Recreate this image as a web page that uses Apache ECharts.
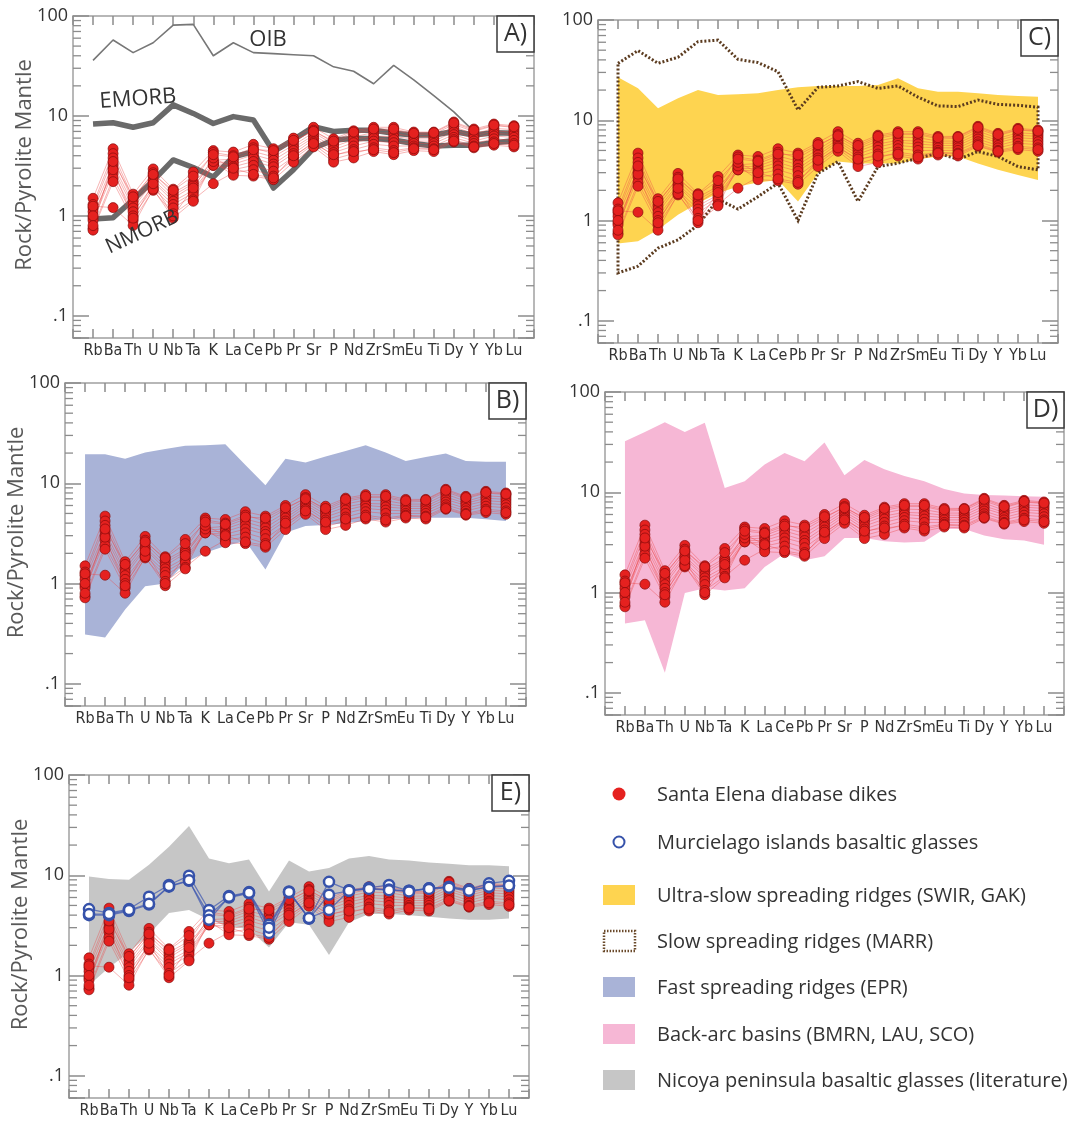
<!DOCTYPE html>
<html><head><meta charset="utf-8">
<script src="https://cdn.jsdelivr.net/npm/echarts@6/dist/echarts.min.js"></script>
<style>html,body{margin:0;padding:0;background:#fff}#c{width:1073px;height:1122px}</style>
</head><body><div id="c"></div>
<script>
// ---------- data ----------
const ELEMENTS = ['Rb','Ba','Th','U','Nb','Ta','K','La','Ce','Pb','Pr','Sr','P','Nd','Zr','Sm','Eu','Ti','Dy','Y','Yb','Lu'];
const YTICK_VALUES = [0.1, 1, 10, 100];
const YTICK_LABELS = ['.1', '1', '10', '100'];
const MINOR_TICKS = [0.06,0.07,0.08,0.09,0.2,0.3,0.4,0.5,0.6,0.7,0.8,0.9,2,3,4,5,6,7,8,9,20,30,40,50,60,70,80,90];

// Santa Elena diabase dikes
const DIKE_1  = [1.5, 4.7, 1.65, 2.95, 1.85, 2.75, 4.5, 4.35, 5.2, 4.7, 6.0, 7.7, 5.9, 7.1, 7.7, 7.7, 6.9, 6.9, 8.7, 7.4, 8.3, 8.0];
const DIKE_2  = [1.3, 4.2, 1.5, 2.7, 1.7, 2.2, 4.3, 4.0, 4.8, 4.2, 5.5, 7.2, 5.4, 6.6, 7.2, 7.2, 6.5, 6.6, 8.2, 7.0, 8.0, 7.7];
const DIKE_3  = [1.2, 3.8, 1.4, 2.5, 1.6, 2.1, 3.6, 3.7, 4.4, 3.9, 5.1, 6.8, 5.2, 6.2, 6.8, 6.7, 6.2, 6.2, 7.8, 6.6, 7.5, 7.3];
const DIKE_4  = [1.1, 3.3, 1.3, 2.3, 1.5, 2.0, 3.4, 3.5, 4.1, 3.6, 4.8, 6.4, 4.9, 5.8, 6.3, 6.2, 5.9, 5.9, 7.3, 6.3, 7.1, 6.9];
const DIKE_5  = [0.95, 3.0, 1.2, 2.2, 1.4, 1.8, 3.3, 3.3, 3.8, 3.3, 4.5, 6.1, 4.6, 5.4, 6.0, 5.8, 5.6, 5.6, 6.9, 6.0, 6.7, 6.5];
const DIKE_6  = [0.9, 2.7, 1.1, 2.0, 1.3, 1.7, 3.2, 3.1, 3.5, 3.1, 4.2, 5.8, 4.3, 5.0, 5.6, 5.4, 5.3, 5.3, 6.5, 5.6, 6.3, 6.1];
const DIKE_7  = [0.75, 2.4, 1.0, 1.9, 1.2, 1.6, 3.2, 2.9, 3.2, 2.8, 3.9, 5.5, 4.0, 4.6, 5.2, 5.0, 5.0, 5.0, 6.1, 5.3, 5.9, 5.7];
const DIKE_8  = [0.72, 2.2, 0.9, 1.8, 1.05, 1.45, 2.1, 2.7, 2.9, 2.5, 3.7, 5.2, 3.7, 4.2, 4.8, 4.5, 4.8, 4.7, 5.8, 5.0, 5.5, 5.3];
const DIKE_9  = [1.25, 1.21, 0.8, 1.85, 0.95, 1.4, 3.5, 2.55, 2.5, 2.3, 3.45, 4.9, 3.45, 3.8, 4.4, 4.1, 4.5, 4.4, 5.5, 4.8, 5.1, 4.9];
const DIKE_10 = [1.0, 2.9, 0.95, 2.1, 1.0, 1.9, 3.8, 3.0, 2.6, 2.4, 4.0, 5.3, 4.1, 4.4, 4.6, 4.3, 4.7, 4.6, 5.6, 4.9, 5.3, 5.1];
const DIKE_11 = [0.8, 3.5, 1.55, 2.6, 1.8, 2.5, 4.1, 3.9, 4.6, 4.5, 5.7, 7.0, 5.6, 6.9, 7.4, 7.4, 6.7, 6.8, 8.5, 7.2, 8.1, 7.8];

// Murcielago islands basaltic glasses
const GLASS_1 = [4.6, 4.2, 4.6, 6.1, 8.0, 9.9, 4.5, 6.2, 6.8, 3.2, 6.9, 3.7, 8.6, 7.1, 7.5, 8.0, 7.0, 7.4, 7.7, 7.2, 8.3, 8.8];
const GLASS_2 = [4.0, 4.0, 4.4, 5.1, 7.7, 8.8, 4.0, 6.0, 6.6, 2.65, 6.7, 3.7, 6.4, 7.0, 7.4, 7.2, 7.0, 7.4, 7.6, 7.1, 7.6, 7.8];
const GLASS_3 = [4.1, 4.1, 4.5, 5.2, 7.8, 8.9, 3.6, 6.1, 6.7, 3.0, 6.8, 3.75, 4.5, 7.0, 7.3, 7.1, 6.9, 7.3, 7.5, 7.0, 7.7, 7.9];

// reference basalts (panel A)
const OIB   = [36, 57.5, 43, 54, 81, 82.5, 40, 54, 43, 42, 41, 40, 31, 28, 21, 32, 23, 16, 11, 7, null, null];
const EMORB = [8.3, 8.55, 7.7, 8.55, 12.9, 10.6, 8.4, 9.85, 9.1, 4.4, 5.8, 7.8, 7.0, 7.2, 7.2, 6.7, 6.45, 6.45, 7.0, 6.45, 6.8, 6.7];
const NMORB = [0.93, 0.96, 1.45, 2.25, 3.63, 3.05, 2.45, 3.9, 4.4, 1.9, 2.9, 4.75, 5.75, 5.95, 5.95, 5.75, 5.3, 5.0, 5.1, 5.1, 5.4, 5.65];

// envelopes
const SWIR_UPPER = [26.8, 20.8, 13.2, 16.6, 20, 17.9, 18.2, 18.6, 20, 21.3, 22, 22, 22, 22.5, 26.2, 20.8, 19.3, 19.3, 18.6, 17.9, 17.5, 17.2];
const SWIR_LOWER = [0.59, 0.62, 0.81, 1.14, 1.49, 1.87, 2.18, 2.39, 2.54, 1.55, 2.96, 3.87, 3.7, 3.7, 3.7, 4.08, 4.35, 4.35, 3.7, 3.2, 2.85, 2.54];
const MARR_UPPER = [37, 49.5, 37, 42.5, 60.8, 63, 40.5, 37.6, 30.5, 12.7, 21.3, 22, 24.3, 20.8, 22, 17, 13.9, 13.7, 15.9, 14.4, 14.1, 13.5];
const MARR_LOWER = [0.30, 0.35, 0.53, 0.64, 0.9, 1.63, 1.3, 1.73, 2.36, 1.0, 2.96, 3.87, 1.55, 3.45, 3.73, 4.18, 4.69, 4.08, 4.87, 4.35, 3.45, 3.2];
const EPR_UPPER = [19.5, 19.5, 17.6, 20.3, 21.9, 23.6, 24, 24.5, 15.2, 9.55, 17.6, 16.1, 18.5, 21, 24, 20.3, 16.7, 18.3, 19.8, 16.7, 16.4, 16.4];
const EPR_LOWER = [0.31, 0.29, 0.55, 0.94, 1.0, 1.61, 2.03, 2.36, 2.65, 1.38, 3.21, 3.74, 3.83, 3.98, 4.2, 4.37, 4.43, 4.53, 4.53, 4.53, 4.37, 4.2];
const BAB_UPPER = [32.3, 40, 50, 40, 49.4, 11.0, 12.9, 18.9, 24.7, 20.4, 31.3, 14.8, 21, 17, 14.5, 12.9, 10.8, 9.7, 9.4, 9.3, 9.1, 9.0];
const BAB_LOWER = [0.49, 0.53, 0.158, 0.99, 1.1, 1.05, 1.1, 1.8, 2.45, 2.1, 2.3, 3.5, 3.5, 3.25, 3.15, 3.2, 4.3, 4.3, 3.7, 3.4, 3.3, 3.0];
const NICOYA_UPPER = [9.7, 9.2, 9.0, 12.7, 19.3, 31, 14.7, 13.2, 14.4, 6.9, 14.0, 10.9, 11.8, 14.7, 15.6, 14.4, 14.0, 13.4, 13.0, 12.6, 12.6, 12.3];
const NICOYA_LOWER = [0.8, 1.2, 1.7, 2.6, 4.2, 4.5, 3.6, 3.1, 2.9, 1.9, 3.4, 3.2, 1.6, 3.4, 4.1, 4.1, 4.0, 3.85, 3.7, 3.6, 3.6, 3.7];

// ---------- build ----------
const DIKES = [DIKE_1, DIKE_2, DIKE_3, DIKE_4, DIKE_5, DIKE_6, DIKE_7, DIKE_8, DIKE_9, DIKE_10, DIKE_11];
const GLASSES = [GLASS_1, GLASS_2, GLASS_3];
const FONT = "'Open Sans', 'Noto Sans', sans-serif";
const NARROW = "'Liberation Sans Narrow', 'DejaVu Sans Condensed', 'Lato', sans-serif";
const FRAME = '#a0a0a0';
const TICK = '#8c8c8c';

const PANELS = [
  {letter: 'A)', grid: {left: 73, top: 16, width: 461, height: 322}, yName: true},
  {letter: 'C)', grid: {left: 598, top: 20, width: 460, height: 323}, yName: false},
  {letter: 'B)', grid: {left: 65, top: 383, width: 461, height: 323}, yName: true},
  {letter: 'D)', grid: {left: 605, top: 392, width: 459, height: 323}, yName: false},
  {letter: 'E)', grid: {left: 69, top: 775, width: 460, height: 323}, yName: true}
];

const grids = [], xAxes = [], yAxes = [], series = [], graphics = [];

function yLabel(v) {
  for (let i = 0; i < YTICK_VALUES.length; i++) {
    if (Math.abs(Math.log10(v) - Math.log10(YTICK_VALUES[i])) < 1e-6) return YTICK_LABELS[i];
  }
  return '';
}

function envelope(g, upper, lower, style, z) {
  return {
    type: 'custom', xAxisIndex: 2 * g, yAxisIndex: 2 * g, z: z || 1, silent: true,
    data: [[0, upper[0]]],
    renderItem: function (params, api) {
      const up = upper.map((v, i) => api.coord([i, v]));
      const lo = lower.map((v, i) => api.coord([i, v])).reverse();
      return {type: 'polygon', shape: {points: up.concat(lo)}, style: style};
    }
  };
}

function minorTicks(g) {
  return {
    type: 'custom', xAxisIndex: 2 * g, yAxisIndex: 2 * g, z: 2, silent: true,
    data: MINOR_TICKS.map(v => [-1, v]),
    renderItem: function (params, api) {
      const v = api.value(1);
      const l = api.coord([-1, v]);
      const r = api.coord([22, v]);
      const st = {stroke: TICK, lineWidth: 1.3};
      return {type: 'group', children: [
        {type: 'line', shape: {x1: l[0], y1: l[1], x2: l[0] + 8, y2: l[1]}, style: st},
        {type: 'line', shape: {x1: r[0] - 8, y1: r[1], x2: r[0], y2: r[1]}, style: st}
      ]};
    }
  };
}

function addDikes(g) {
  DIKES.forEach(s => {
    series.push({
      type: 'line', xAxisIndex: 2 * g, yAxisIndex: 2 * g, z: 4, silent: true,
      showSymbol: false, symbol: 'none',
      lineStyle: {color: 'rgba(236,70,70,0.4)', width: 1},
      data: s.map((v, i) => [i, v])
    });
  });
  const pts = [];
  DIKES.forEach(s => s.forEach((v, i) => pts.push([i, v])));
  series.push({
    type: 'scatter', xAxisIndex: 2 * g, yAxisIndex: 2 * g, z: 5, silent: true,
    symbol: 'circle', symbolSize: 10,
    itemStyle: {color: '#e5211f', borderColor: 'rgba(130,10,10,0.85)', borderWidth: 0.8, opacity: 1},
    data: pts
  });
}

PANELS.forEach((p, g) => {
  grids.push(Object.assign({containLabel: false}, p.grid));
  const axisLine = {show: true, onZero: false, lineStyle: {color: FRAME, width: 1.5}};
  const xTick = {show: true, inside: true, length: 9, lineStyle: {color: TICK, width: 1.5}};
  const yTick = {show: true, inside: true, length: 16, lineStyle: {color: TICK, width: 1.5}};
  xAxes.push({gridIndex: g, type: 'value', min: -1, max: 22, interval: 1, position: 'bottom',
    axisLine, axisTick: xTick, splitLine: {show: false},
    axisLabel: {formatter: v => ELEMENTS[v] || '', fontSize: 16, color: '#333', margin: 5, fontFamily: NARROW}});
  xAxes.push({gridIndex: g, type: 'value', min: -1, max: 22, interval: 1, position: 'top',
    axisLine, axisTick: xTick, splitLine: {show: false}, axisLabel: {show: false}});
  yAxes.push({gridIndex: g, type: 'log', logBase: 10, min: 0.06, max: 100, position: 'left',
    axisLine, axisTick: yTick, splitLine: {show: false},
    axisLabel: {formatter: yLabel, fontSize: 18, color: '#333', margin: 5, fontFamily: FONT}});
  yAxes.push({gridIndex: g, type: 'log', logBase: 10, min: 0.06, max: 100, position: 'right',
    axisLine, axisTick: yTick, splitLine: {show: false}, axisLabel: {show: false}});

  series.push(minorTicks(g));

  const G = p.grid;
  graphics.push({type: 'rect', shape: {x: G.left + G.width - 37, y: G.top, width: 37, height: 36},
    style: {fill: '#fff', stroke: '#3a3a3a', lineWidth: 1.5}, z: 100});
  graphics.push({type: 'text', x: G.left + G.width - 18.5, y: G.top + 18, z: 101,
    style: {text: p.letter, fill: '#333', font: '25px ' + FONT, align: 'center', verticalAlign: 'middle'}});
  if (p.yName) {
    graphics.push({type: 'text', x: G.left - 48, y: G.top + G.height / 2 - 12, rotation: Math.PI / 2, z: 101,
      style: {text: 'Rock/Pyrolite Mantle', fill: '#595959', font: '22px ' + FONT, align: 'center', verticalAlign: 'middle'}});
  }
});

// Panel A (g=0): reference basalts
[['OIB', OIB, 1.6, '#777'], ['EMORB', EMORB, 5.5, '#6a6a6a'], ['NMORB', NMORB, 5.5, '#6a6a6a']].forEach(m => {
  series.push({type: 'line', name: m[0], xAxisIndex: 0, yAxisIndex: 0, z: 3, silent: true,
    showSymbol: false, symbol: 'none', connectNulls: false,
    lineStyle: {color: m[3], width: m[2], join: 'round'},
    data: m[1].map((v, i) => [i, v])});
});
addDikes(0);

// Panel C (g=1)
series.push(envelope(1, SWIR_UPPER, SWIR_LOWER, {fill: '#fed450'}, 1));
series.push(envelope(1, MARR_UPPER, MARR_LOWER, {fill: 'none', stroke: '#5b3b1f', lineWidth: 3, lineDash: [2, 2]}, 3));
addDikes(1);

// Panel B (g=2)
series.push(envelope(2, EPR_UPPER, EPR_LOWER, {fill: '#a9b3d7'}, 1));
addDikes(2);

// Panel D (g=3)
series.push(envelope(3, BAB_UPPER, BAB_LOWER, {fill: '#f6b7d5'}, 1));
addDikes(3);

// Panel E (g=4)
series.push(envelope(4, NICOYA_UPPER, NICOYA_LOWER, {fill: '#c6c6c6'}, 1));
addDikes(4);
GLASSES.forEach(s => {
  series.push({type: 'line', xAxisIndex: 8, yAxisIndex: 8, z: 6, silent: true,
    symbol: 'circle', symbolSize: 10, showSymbol: true,
    lineStyle: {color: 'rgba(60,85,175,0.7)', width: 1.3},
    itemStyle: {color: '#fff', borderColor: '#3652aa', borderWidth: 2.5},
    data: s.map((v, i) => [i, v])});
});

// Panel A labels
graphics.push({type: 'text', x: 268, y: 40, z: 50, style: {text: 'OIB', fill: '#333', font: '22px ' + FONT, align: 'center', verticalAlign: 'middle'}});
graphics.push({type: 'text', x: 138, y: 99, rotation: 4 * Math.PI / 180, z: 50, style: {text: 'EMORB', fill: '#333', font: '22px ' + FONT, align: 'center', verticalAlign: 'middle'}});
graphics.push({type: 'text', x: 142, y: 232, rotation: 25 * Math.PI / 180, z: 50, style: {text: 'NMORB', fill: '#333', font: '21px ' + FONT, align: 'center', verticalAlign: 'middle'}});

// Legend
const LEG_X = 603, TXT_X = 657;
const legendItems = [
  {text: 'Santa Elena diabase dikes', y: 795, kind: 'dot'},
  {text: 'Murcielago islands basaltic glasses', y: 843, kind: 'ring'},
  {text: 'Ultra-slow spreading ridges (SWIR, GAK)', y: 896, kind: 'rect', fill: '#fed450'},
  {text: 'Slow spreading ridges (MARR)', y: 942, kind: 'dotted'},
  {text: 'Fast spreading ridges (EPR)', y: 988, kind: 'rect', fill: '#a9b3d7'},
  {text: 'Back-arc basins (BMRN, LAU, SCO)', y: 1035, kind: 'rect', fill: '#f6b7d5'},
  {text: 'Nicoya peninsula basaltic glasses (literature)', y: 1081, kind: 'rect', fill: '#c6c6c6'}
];
legendItems.forEach(it => {
  if (it.kind === 'dot') graphics.push({type: 'circle', shape: {cx: LEG_X + 16, cy: it.y - 1, r: 6.5}, style: {fill: '#e5211f'}});
  else if (it.kind === 'ring') graphics.push({type: 'circle', shape: {cx: LEG_X + 16, cy: it.y - 1, r: 5.5}, style: {fill: '#fff', stroke: '#3652aa', lineWidth: 2}});
  else if (it.kind === 'dotted') graphics.push({type: 'rect', shape: {x: LEG_X + 1, y: it.y - 11, width: 31, height: 20}, style: {fill: 'none', stroke: '#6b4a2b', lineWidth: 2.5, lineDash: [1.5, 1.5]}});
  else graphics.push({type: 'rect', shape: {x: LEG_X, y: it.y - 11, width: 32, height: 20}, style: {fill: it.fill}});
  graphics.push({type: 'text', x: TXT_X, y: it.y, style: {text: it.text, fill: '#333', font: '20px ' + FONT, align: 'left', verticalAlign: 'middle'}});
});

const chart = echarts.init(document.getElementById('c'), null, {renderer: 'canvas', width: 1073, height: 1122});
chart.setOption({
  animation: false,
  backgroundColor: '#fff',
  grid: grids,
  xAxis: xAxes,
  yAxis: yAxes,
  series: series,
  graphic: {elements: graphics}
});
</script>
</body></html>
